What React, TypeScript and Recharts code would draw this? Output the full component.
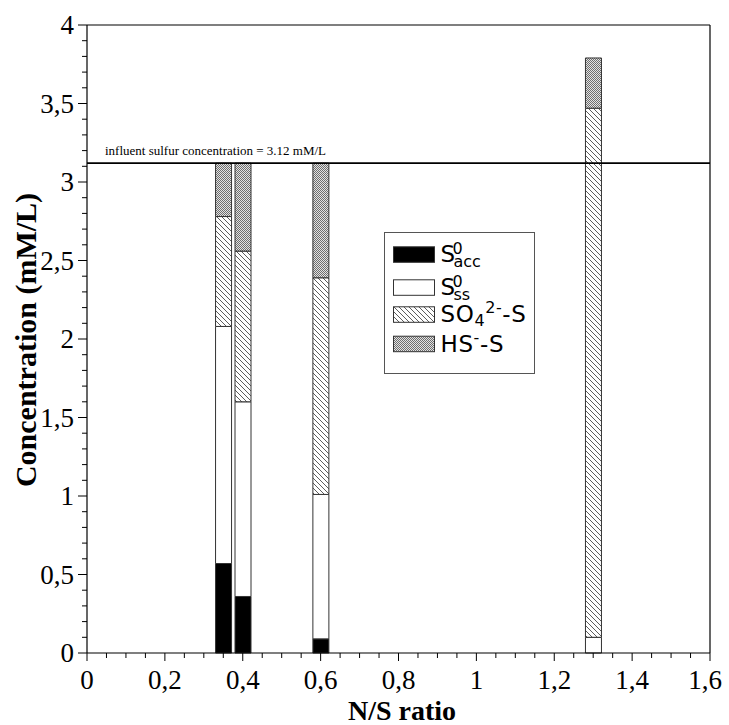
import React from 'react';
import { BarChart, Bar, XAxis, YAxis, ReferenceLine } from 'recharts';

// N/S ratio of each run
const nsRatio = [0.35, 0.4, 0.6, 1.3];
// sulfur species (mM/L), stacked bottom to top
const s0Acc = [0.57, 0.36, 0.09, 0];
const s0Ss = [1.51, 1.24, 0.92, 0.1];
const so4S = [0.7, 0.96, 1.38, 3.37];
const hsS = [0.34, 0.56, 0.73, 0.32];
const influentS = 3.12;

const yMajorTicks = [0, 0.5, 1, 1.5, 2, 2.5, 3, 3.5, 4];
const yMinorTicks = [
  0.1, 0.2, 0.3, 0.4, 0.6, 0.7, 0.8, 0.9, 1.1, 1.2, 1.3, 1.4, 1.6, 1.7, 1.8, 1.9,
  2.1, 2.2, 2.3, 2.4, 2.6, 2.7, 2.8, 2.9, 3.1, 3.2, 3.3, 3.4, 3.6, 3.7, 3.8, 3.9,
];
const xMajorTicks = [0, 0.2, 0.4, 0.6, 0.8, 1, 1.2, 1.4, 1.6];
const xMinorTicks = [
  0.05, 0.1, 0.15, 0.25, 0.3, 0.35, 0.45, 0.5, 0.55, 0.65, 0.7, 0.75, 0.85, 0.9, 0.95,
  1.05, 1.1, 1.15, 1.25, 1.3, 1.35, 1.45, 1.5, 1.55,
];

const data = nsRatio.map((x, i) => ({
  x,
  s0Acc: s0Acc[i],
  s0Ss: s0Ss[i],
  so4S: so4S[i],
  hsS: hsS[i],
}));

const yAllTicks = [...yMajorTicks, ...yMinorTicks].sort((a, b) => a - b);
const xAllTicks = [...xMajorTicks, ...xMinorTicks].sort((a, b) => a - b);

const fmt = (v: number) => String(v).replace('.', ',');
const SERIF = '"Liberation Serif", "Times New Roman", serif';
const SANS = '"DejaVu Sans", Verdana, sans-serif';

const YTick = (props: any) => {
  const { x, y, payload } = props;
  const v = payload.value;
  const major = yMajorTicks.includes(v);
  return (
    <g>
      <line x1={x - (major ? 9 : 5)} x2={x} y1={y} y2={y} stroke="#000" strokeWidth={1} />
      {major && (
        <text x={x - 13} y={y} dy="0.35em" textAnchor="end" fontFamily={SERIF} fontSize={27} fill="#000">
          {fmt(v)}
        </text>
      )}
    </g>
  );
};

const XTick = (props: any) => {
  const { x, y, payload } = props;
  const v = payload.value;
  const major = xMajorTicks.includes(v);
  const last = v === xMajorTicks[xMajorTicks.length - 1];
  return (
    <g>
      <line x1={x} x2={x} y1={y} y2={y + (major ? 8 : 5)} stroke="#000" strokeWidth={1} />
      {major && (
        <text
          x={last ? x + 12 : x}
          y={y + 36}
          textAnchor={last ? 'end' : 'middle'}
          fontFamily={SERIF}
          fontSize={27}
          fill="#000"
        >
          {fmt(v)}
        </text>
      )}
    </g>
  );
};

const XTitle = () => (
  <text x={402} y={720} textAnchor="middle" fontFamily={SERIF} fontWeight="bold" fontSize={28} fill="#000">
    N/S ratio
  </text>
);

const YTitle = () => (
  <text
    x={25}
    y={340}
    transform="rotate(-90 25 340)"
    textAnchor="middle"
    dominantBaseline="central"
    fontFamily={SERIF}
    fontWeight="bold"
    fontSize={30}
    fill="#000"
  >
    Concentration (mM/L)
  </text>
);

const RefLabel = (props: any) => {
  const vb = props.viewBox || { x: 87, y: 163 };
  return (
    <text x={vb.x + 18} y={vb.y - 8} fontFamily={SERIF} fontSize={13} fill="#000">
      influent sulfur concentration = 3.12 mM/L
    </text>
  );
};

const Patterns = ({ suffix }: { suffix: string }) => (
  <defs>
    <pattern id={`hatch${suffix}`} patternUnits="userSpaceOnUse" width={5} height={5}>
      <rect width={5} height={5} fill="#fff" />
      <path d="M0,0 L5,5 M-1,4 L1,6 M4,-1 L6,1" stroke="#333" strokeWidth={0.8} />
    </pattern>
    <pattern id={`dots${suffix}`} patternUnits="userSpaceOnUse" width={2} height={2}>
      <rect width={2} height={2} fill="#e2e2e2" />
      <rect x={0} y={0} width={1} height={1} fill="#6e6e6e" />
      <rect x={1} y={1} width={1} height={1} fill="#6e6e6e" />
    </pattern>
  </defs>
);

const LegendBox = () => {
  const bl = [262.3, 295.3, 322.3, 351.7].map((b) => b - 232);
  const sw = (fill: string, b: number) => (
    <rect x={9.5} y={b - 15.5} width={41} height={15.5} fill={fill} stroke="#333" strokeWidth={1} />
  );
  return (
    <svg
      width={152}
      height={143}
      style={{ position: 'absolute', left: 384, top: 232, overflow: 'visible' }}
    >
      <Patterns suffix="L" />
      <rect x={0.5} y={0.5} width={150} height={141} fill="#fff" stroke="#555" strokeWidth={1} />
      {sw('#000', bl[0])}
      {sw('#fff', bl[1])}
      {sw('url(#hatchL)', bl[2])}
      {sw('url(#dotsL)', bl[3])}
      <g fontFamily={SANS} fill="#000">
        <text x={56.5} y={bl[0]} fontSize={23}>
          S
          <tspan x={68.5} dy={-8.5} fontSize={16}>0</tspan>
          <tspan x={69.5} dy={13.5} fontSize={16}>acc</tspan>
        </text>

        <text x={56.5} y={bl[1]} fontSize={23}>
          S
          <tspan x={68.5} dy={-8.5} fontSize={16}>0</tspan>
          <tspan x={69.5} dy={13.5} fontSize={16}>ss</tspan>
        </text>

        <text x={56.5} y={bl[2]} fontSize={23} letterSpacing={0.6}>
          SO
          <tspan fontSize={16} dy={4}>4</tspan>
          <tspan fontSize={16} dy={-13}>2-</tspan>
          <tspan fontSize={23} dy={9}>-S</tspan>
        </text>

        <text x={56.5} y={bl[3]} fontSize={23} letterSpacing={0.6}>
          HS
          <tspan fontSize={16} dy={-9}>-</tspan>
          <tspan fontSize={23} dy={9}>-S</tspan>
        </text>
      </g>
    </svg>
  );
};

export default function App() {
  return (
    <div style={{ position: 'absolute', left: 0, top: 0, width: 729, height: 725, background: '#fff' }}>
      <BarChart
        width={729}
        height={725}
        data={data}
        margin={{ top: 25, right: 19, bottom: 0, left: 0 }}
        barSize={16}
      >
        <Patterns suffix="C" />
        <XAxis
          type="number"
          dataKey="x"
          domain={[0, 1.6]}
          ticks={xAllTicks}
          interval={0}
          tick={<XTick />}
          tickLine={false}
          tickSize={0}
          tickMargin={0}
          height={72}
          axisLine={{ stroke: '#000', strokeWidth: 1.2 }}
          label={<XTitle />}
        />
        <YAxis
          type="number"
          domain={[0, 4]}
          ticks={yAllTicks}
          interval={0}
          tick={<YTick />}
          tickLine={false}
          tickSize={0}
          tickMargin={0}
          width={87}
          axisLine={{ stroke: '#000', strokeWidth: 1.2 }}
          label={<YTitle />}
        />
        <Bar dataKey="s0Acc" stackId="s" fill="#000" stroke="#333" strokeWidth={1} isAnimationActive={false} />
        <Bar dataKey="s0Ss" stackId="s" fill="#fff" stroke="#333" strokeWidth={1} isAnimationActive={false} />
        <Bar dataKey="so4S" stackId="s" fill="url(#hatchC)" stroke="#333" strokeWidth={1} isAnimationActive={false} />
        <Bar dataKey="hsS" stackId="s" fill="url(#dotsC)" stroke="#333" strokeWidth={1} isAnimationActive={false} />
        <ReferenceLine y={4} stroke="#000" strokeWidth={1.2} />
        <ReferenceLine x={1.6} stroke="#000" strokeWidth={1.2} />
        <ReferenceLine y={influentS} stroke="#000" strokeWidth={1.8} label={<RefLabel />} />
      </BarChart>
      <LegendBox />
    </div>
  );
}
